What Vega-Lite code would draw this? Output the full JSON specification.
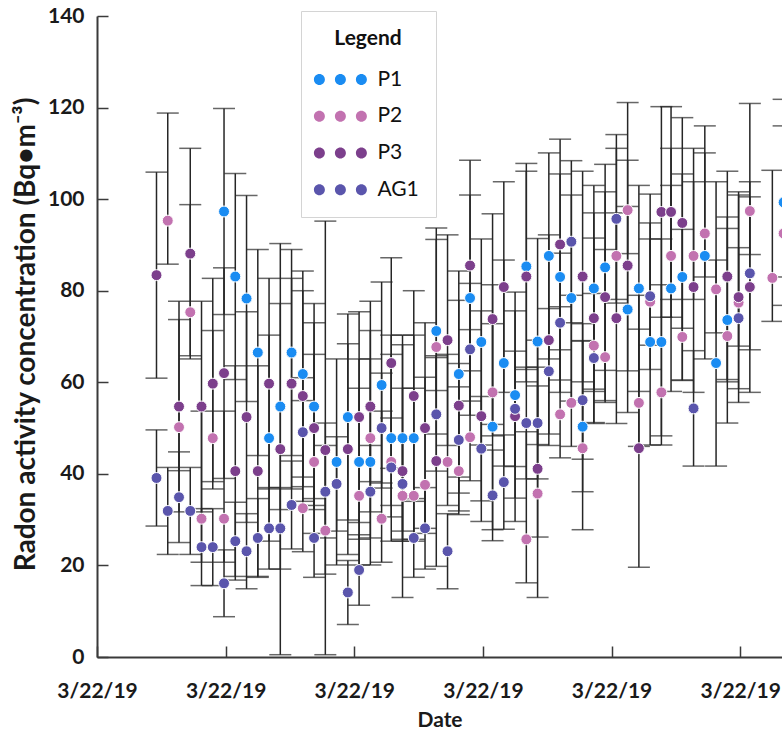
{
  "$schema": "https://vega.github.io/schema/vega-lite/v6.json",
  "autosize": "none",
  "padding": {"left": 97, "top": 16, "right": 0, "bottom": 72},
  "width": 685,
  "height": 641,
  "background": "white",
  "datasets": {
    "d": [
      {"s":"P1","d":79,"v":97.3,"lo":74.8,"hi":119.8},
      {"s":"P1","d":86,"v":83.1,"lo":60.6,"hi":105.6},
      {"s":"P1","d":93,"v":78.3,"lo":55.8,"hi":100.8},
      {"s":"P1","d":100,"v":66.5,"lo":44.0,"hi":89.0},
      {"s":"P1","d":107,"v":47.8,"lo":25.3,"hi":70.3},
      {"s":"P1","d":114,"v":54.7,"lo":32.2,"hi":77.2},
      {"s":"P1","d":121,"v":66.5,"lo":44.0,"hi":89.0},
      {"s":"P1","d":128,"v":61.8,"lo":39.3,"hi":84.3},
      {"s":"P1","d":135,"v":54.7,"lo":32.2,"hi":77.2},
      {"s":"P1","d":149,"v":42.6,"lo":20.1,"hi":65.1},
      {"s":"P1","d":156,"v":52.4,"lo":29.9,"hi":74.9},
      {"s":"P1","d":163,"v":42.6,"lo":20.1,"hi":65.1},
      {"s":"P1","d":170,"v":42.6,"lo":20.1,"hi":65.1},
      {"s":"P1","d":177,"v":59.4,"lo":36.9,"hi":81.9},
      {"s":"P1","d":183,"v":47.8,"lo":25.3,"hi":70.3},
      {"s":"P1","d":190,"v":47.8,"lo":25.3,"hi":70.3},
      {"s":"P1","d":197,"v":47.8,"lo":25.3,"hi":70.3},
      {"s":"P1","d":211,"v":71.2,"lo":48.7,"hi":93.7},
      {"s":"P1","d":225,"v":61.8,"lo":39.3,"hi":84.3},
      {"s":"P1","d":232,"v":78.4,"lo":55.9,"hi":100.9},
      {"s":"P1","d":239,"v":68.8,"lo":46.3,"hi":91.3},
      {"s":"P1","d":246,"v":50.3,"lo":27.8,"hi":72.8},
      {"s":"P1","d":253,"v":64.2,"lo":41.7,"hi":86.7},
      {"s":"P1","d":260,"v":57.2,"lo":34.7,"hi":79.7},
      {"s":"P1","d":267,"v":85.3,"lo":62.8,"hi":107.8},
      {"s":"P1","d":274,"v":68.9,"lo":46.4,"hi":91.4},
      {"s":"P1","d":281,"v":87.6,"lo":65.1,"hi":110.1},
      {"s":"P1","d":288,"v":83.0,"lo":60.5,"hi":105.5},
      {"s":"P1","d":295,"v":78.4,"lo":55.9,"hi":100.9},
      {"s":"P1","d":302,"v":50.3,"lo":27.8,"hi":72.8},
      {"s":"P1","d":309,"v":80.5,"lo":58.0,"hi":103.0},
      {"s":"P1","d":316,"v":85.1,"lo":62.6,"hi":107.6},
      {"s":"P1","d":330,"v":75.9,"lo":53.4,"hi":98.4},
      {"s":"P1","d":337,"v":80.5,"lo":58.0,"hi":103.0},
      {"s":"P1","d":344,"v":68.8,"lo":46.3,"hi":91.3},
      {"s":"P1","d":351,"v":68.8,"lo":46.3,"hi":91.3},
      {"s":"P1","d":357,"v":80.5,"lo":58.0,"hi":103.0},
      {"s":"P1","d":364,"v":83.0,"lo":60.5,"hi":105.5},
      {"s":"P1","d":378,"v":87.6,"lo":65.1,"hi":110.1},
      {"s":"P1","d":385,"v":64.2,"lo":41.7,"hi":86.7},
      {"s":"P1","d":392,"v":73.6,"lo":51.1,"hi":96.1},
      {"s":"P1","d":427,"v":99.3,"lo":76.8,"hi":121.8},

      {"s":"P2","d":44,"v":95.3,"lo":85.8,"hi":118.8},
      {"s":"P2","d":51,"v":50.2,"lo":40.7,"hi":73.7},
      {"s":"P2","d":58,"v":75.3,"lo":65.8,"hi":98.8},
      {"s":"P2","d":65,"v":30.2,"lo":20.7,"hi":53.7},
      {"s":"P2","d":72,"v":47.8,"lo":38.3,"hi":71.3},
      {"s":"P2","d":79,"v":30.2,"lo":20.7,"hi":53.7},
      {"s":"P2","d":128,"v":32.5,"lo":23.0,"hi":56.0},
      {"s":"P2","d":135,"v":42.6,"lo":33.1,"hi":66.1},
      {"s":"P2","d":142,"v":27.6,"lo":18.1,"hi":51.1},
      {"s":"P2","d":163,"v":35.2,"lo":25.7,"hi":58.7},
      {"s":"P2","d":170,"v":47.8,"lo":38.3,"hi":71.3},
      {"s":"P2","d":177,"v":30.2,"lo":20.7,"hi":53.7},
      {"s":"P2","d":183,"v":42.6,"lo":33.1,"hi":66.1},
      {"s":"P2","d":190,"v":35.2,"lo":25.7,"hi":58.7},
      {"s":"P2","d":197,"v":35.2,"lo":25.7,"hi":58.7},
      {"s":"P2","d":204,"v":37.6,"lo":28.1,"hi":61.1},
      {"s":"P2","d":211,"v":67.7,"lo":58.2,"hi":91.2},
      {"s":"P2","d":218,"v":42.6,"lo":33.1,"hi":66.1},
      {"s":"P2","d":225,"v":40.6,"lo":31.1,"hi":64.1},
      {"s":"P2","d":232,"v":48.0,"lo":38.5,"hi":71.5},
      {"s":"P2","d":246,"v":57.8,"lo":48.3,"hi":81.3},
      {"s":"P2","d":267,"v":25.7,"lo":16.2,"hi":49.2},
      {"s":"P2","d":274,"v":35.7,"lo":26.2,"hi":59.2},
      {"s":"P2","d":288,"v":53.0,"lo":43.5,"hi":76.5},
      {"s":"P2","d":295,"v":55.5,"lo":46.0,"hi":79.0},
      {"s":"P2","d":302,"v":45.6,"lo":36.1,"hi":69.1},
      {"s":"P2","d":309,"v":68.0,"lo":58.5,"hi":91.5},
      {"s":"P2","d":316,"v":65.5,"lo":56.0,"hi":89.0},
      {"s":"P2","d":323,"v":87.6,"lo":78.1,"hi":111.1},
      {"s":"P2","d":330,"v":97.6,"lo":88.1,"hi":121.1},
      {"s":"P2","d":337,"v":55.5,"lo":46.0,"hi":79.0},
      {"s":"P2","d":344,"v":77.6,"lo":68.1,"hi":101.1},
      {"s":"P2","d":351,"v":57.8,"lo":48.3,"hi":81.3},
      {"s":"P2","d":357,"v":87.6,"lo":78.1,"hi":111.1},
      {"s":"P2","d":364,"v":69.9,"lo":60.4,"hi":93.4},
      {"s":"P2","d":371,"v":87.6,"lo":78.1,"hi":111.1},
      {"s":"P2","d":378,"v":92.5,"lo":83.0,"hi":116.0},
      {"s":"P2","d":385,"v":80.3,"lo":70.8,"hi":103.8},
      {"s":"P2","d":392,"v":70.1,"lo":60.6,"hi":93.6},
      {"s":"P2","d":399,"v":77.4,"lo":67.9,"hi":100.9},
      {"s":"P2","d":406,"v":97.4,"lo":87.9,"hi":120.9},
      {"s":"P2","d":420,"v":82.8,"lo":73.3,"hi":106.3},
      {"s":"P2","d":427,"v":92.5,"lo":83.0,"hi":116.0},

      {"s":"P3","d":37,"v":83.4,"lo":60.9,"hi":105.9},
      {"s":"P3","d":51,"v":54.7,"lo":31.7,"hi":77.7},
      {"s":"P3","d":58,"v":88.1,"lo":65.1,"hi":111.1},
      {"s":"P3","d":65,"v":54.7,"lo":31.7,"hi":77.7},
      {"s":"P3","d":72,"v":59.7,"lo":36.7,"hi":82.7},
      {"s":"P3","d":79,"v":62.0,"lo":39.0,"hi":85.0},
      {"s":"P3","d":86,"v":40.6,"lo":17.6,"hi":63.6},
      {"s":"P3","d":93,"v":52.4,"lo":29.4,"hi":75.4},
      {"s":"P3","d":100,"v":40.6,"lo":17.6,"hi":63.6},
      {"s":"P3","d":107,"v":59.7,"lo":36.7,"hi":82.7},
      {"s":"P3","d":114,"v":45.4,"lo":0.5,"hi":90.3},
      {"s":"P3","d":121,"v":59.7,"lo":36.7,"hi":82.7},
      {"s":"P3","d":128,"v":57.0,"lo":34.0,"hi":80.0},
      {"s":"P3","d":135,"v":50.0,"lo":27.0,"hi":73.0},
      {"s":"P3","d":142,"v":45.2,"lo":0.5,"hi":95.2},
      {"s":"P3","d":156,"v":45.4,"lo":22.4,"hi":68.4},
      {"s":"P3","d":163,"v":52.4,"lo":29.4,"hi":75.4},
      {"s":"P3","d":170,"v":54.7,"lo":31.7,"hi":77.7},
      {"s":"P3","d":183,"v":64.2,"lo":41.2,"hi":87.2},
      {"s":"P3","d":190,"v":40.6,"lo":13.0,"hi":68.2},
      {"s":"P3","d":197,"v":57.0,"lo":34.0,"hi":80.0},
      {"s":"P3","d":204,"v":50.0,"lo":27.0,"hi":73.0},
      {"s":"P3","d":211,"v":42.8,"lo":19.8,"hi":65.8},
      {"s":"P3","d":218,"v":69.2,"lo":46.2,"hi":92.2},
      {"s":"P3","d":225,"v":54.9,"lo":31.9,"hi":77.9},
      {"s":"P3","d":232,"v":85.5,"lo":62.5,"hi":108.5},
      {"s":"P3","d":239,"v":52.6,"lo":29.6,"hi":75.6},
      {"s":"P3","d":246,"v":73.8,"lo":50.8,"hi":96.8},
      {"s":"P3","d":253,"v":80.8,"lo":57.8,"hi":103.8},
      {"s":"P3","d":260,"v":52.6,"lo":29.6,"hi":75.6},
      {"s":"P3","d":267,"v":83.1,"lo":60.1,"hi":106.1},
      {"s":"P3","d":274,"v":41.1,"lo":13.0,"hi":69.2},
      {"s":"P3","d":281,"v":69.2,"lo":46.2,"hi":92.2},
      {"s":"P3","d":288,"v":90.1,"lo":67.1,"hi":113.1},
      {"s":"P3","d":302,"v":83.1,"lo":60.1,"hi":106.1},
      {"s":"P3","d":309,"v":74.0,"lo":51.0,"hi":97.0},
      {"s":"P3","d":316,"v":78.6,"lo":55.6,"hi":101.6},
      {"s":"P3","d":323,"v":74.0,"lo":51.0,"hi":97.0},
      {"s":"P3","d":330,"v":85.5,"lo":62.5,"hi":108.5},
      {"s":"P3","d":337,"v":45.6,"lo":19.6,"hi":71.6},
      {"s":"P3","d":351,"v":97.2,"lo":74.2,"hi":120.2},
      {"s":"P3","d":357,"v":97.2,"lo":74.2,"hi":120.2},
      {"s":"P3","d":364,"v":94.8,"lo":71.8,"hi":117.8},
      {"s":"P3","d":371,"v":80.8,"lo":57.8,"hi":103.8},
      {"s":"P3","d":392,"v":83.1,"lo":60.1,"hi":106.1},
      {"s":"P3","d":399,"v":78.6,"lo":55.6,"hi":101.6},
      {"s":"P3","d":406,"v":80.8,"lo":57.8,"hi":103.8},

      {"s":"AG1","d":37,"v":39.1,"lo":28.6,"hi":49.6},
      {"s":"AG1","d":44,"v":31.9,"lo":22.4,"hi":41.4},
      {"s":"AG1","d":51,"v":34.9,"lo":25.0,"hi":44.8},
      {"s":"AG1","d":58,"v":31.9,"lo":22.4,"hi":41.4},
      {"s":"AG1","d":65,"v":24.0,"lo":15.6,"hi":32.4},
      {"s":"AG1","d":72,"v":24.0,"lo":15.6,"hi":32.4},
      {"s":"AG1","d":79,"v":16.1,"lo":8.8,"hi":23.4},
      {"s":"AG1","d":86,"v":25.3,"lo":16.8,"hi":33.8},
      {"s":"AG1","d":93,"v":23.1,"lo":14.9,"hi":31.3},
      {"s":"AG1","d":100,"v":26.0,"lo":17.4,"hi":34.6},
      {"s":"AG1","d":107,"v":28.1,"lo":19.2,"hi":37.0},
      {"s":"AG1","d":114,"v":28.1,"lo":19.2,"hi":37.0},
      {"s":"AG1","d":121,"v":33.2,"lo":23.6,"hi":42.8},
      {"s":"AG1","d":128,"v":49.1,"lo":37.2,"hi":61.0},
      {"s":"AG1","d":135,"v":26.0,"lo":17.4,"hi":34.6},
      {"s":"AG1","d":142,"v":36.1,"lo":26.0,"hi":46.2},
      {"s":"AG1","d":149,"v":37.8,"lo":27.5,"hi":48.1},
      {"s":"AG1","d":156,"v":14.1,"lo":7.1,"hi":21.1},
      {"s":"AG1","d":163,"v":19.0,"lo":11.3,"hi":26.7},
      {"s":"AG1","d":170,"v":36.1,"lo":26.0,"hi":46.2},
      {"s":"AG1","d":177,"v":50.0,"lo":38.0,"hi":62.0},
      {"s":"AG1","d":183,"v":41.4,"lo":30.6,"hi":52.2},
      {"s":"AG1","d":190,"v":37.8,"lo":27.5,"hi":48.1},
      {"s":"AG1","d":197,"v":26.0,"lo":17.4,"hi":34.6},
      {"s":"AG1","d":204,"v":28.1,"lo":19.2,"hi":37.0},
      {"s":"AG1","d":211,"v":53.0,"lo":40.6,"hi":65.4},
      {"s":"AG1","d":218,"v":23.1,"lo":14.9,"hi":31.3},
      {"s":"AG1","d":225,"v":47.4,"lo":35.8,"hi":59.0},
      {"s":"AG1","d":232,"v":67.2,"lo":52.8,"hi":81.6},
      {"s":"AG1","d":239,"v":45.5,"lo":34.1,"hi":56.9},
      {"s":"AG1","d":246,"v":35.3,"lo":25.4,"hi":45.2},
      {"s":"AG1","d":253,"v":38.2,"lo":27.9,"hi":48.5},
      {"s":"AG1","d":260,"v":54.2,"lo":41.6,"hi":66.8},
      {"s":"AG1","d":267,"v":51.1,"lo":38.9,"hi":63.3},
      {"s":"AG1","d":274,"v":51.1,"lo":38.9,"hi":63.3},
      {"s":"AG1","d":281,"v":62.4,"lo":48.7,"hi":76.1},
      {"s":"AG1","d":288,"v":73.0,"lo":57.8,"hi":88.2},
      {"s":"AG1","d":295,"v":90.7,"lo":73.0,"hi":108.4},
      {"s":"AG1","d":302,"v":56.1,"lo":43.2,"hi":69.0},
      {"s":"AG1","d":309,"v":65.3,"lo":51.2,"hi":79.4},
      {"s":"AG1","d":323,"v":95.7,"lo":77.3,"hi":114.1},
      {"s":"AG1","d":344,"v":78.8,"lo":62.8,"hi":94.8},
      {"s":"AG1","d":371,"v":54.3,"lo":41.7,"hi":66.9},
      {"s":"AG1","d":399,"v":74.0,"lo":58.6,"hi":89.4},
      {"s":"AG1","d":406,"v":83.8,"lo":67.1,"hi":100.5}
    ]
  },
  "data": {"name": "d"},
  "encoding": {
    "x": {
      "field": "d", "type": "quantitative",
      "scale": {"domain": [0, 426], "nice": false, "zero": false},
      "axis": {
        "title": "Date",
        "values": [0, 80, 160, 240, 320, 400],
        "labelExpr": "'3/22/19'",
        "labelFlush": false,
        "labelOverlap": false,
        "labelPadding": 34,
        "titlePadding": 8,
        "titleFontSize": 21
      }
    }
  },
  "layer": [
    {
      "mark": {"type": "rule", "color": "#262626", "strokeWidth": 1.5, "clip": true},
      "encoding": {
        "y": {"field": "lo", "type": "quantitative", "scale": {"domain": [0, 140], "nice": false},
          "axis": {
            "title": "Radon activity concentration (Bq•m⁻³)",
            "values": [0, 20, 40, 60, 80, 100, 120, 140],
            "labelPadding": 24,
            "titlePadding": 7,
            "titleFontSize": 28,
            "titleY": 318
          }},
        "y2": {"field": "hi"}
      }
    },
    {
      "mark": {"type": "tick", "orient": "horizontal", "color": "#262626", "size": 22, "thickness": 1.5, "clip": true},
      "encoding": {"y": {"field": "lo", "type": "quantitative"}}
    },
    {
      "mark": {"type": "tick", "orient": "horizontal", "color": "#262626", "size": 22, "thickness": 1.5, "clip": true},
      "encoding": {"y": {"field": "hi", "type": "quantitative"}}
    },
    {
      "mark": {"type": "point", "filled": true, "shape": "circle", "size": 120, "opacity": 1, "stroke": "white", "strokeWidth": 1, "clip": true},
      "encoding": {
        "y": {"field": "v", "type": "quantitative"},
        "color": {
          "field": "s", "type": "nominal",
          "scale": {"domain": ["P1", "P2", "P3", "AG1"], "range": ["#1A8CF2", "#C272B0", "#7C3F8C", "#5A55AC"]},
          "legend": {
            "title": "Legend",
            "orient": "none",
            "legendX": 204,
            "legendY": -5,
            "padding": 17,
            "strokeColor": "#d4d4d4",
            "fillColor": "white",
            "titleAnchor": "middle",
            "titleFont": "Lato",
            "titleFontSize": 21,
            "titleFontWeight": "bold",
            "titleColor": "#111",
            "titlePadding": 17,
            "labelFont": "Lato",
            "labelFontSize": 21,
            "labelColor": "#111",
            "labelOffset": 32.45,
            "rowPadding": 12.75,
            "symbolSize": 689,
            "symbolStrokeWidth": 0,
            "symbolType": "M-1.341,0 A0.419,0.419 0 1,0 -0.503,0 A0.419,0.419 0 1,0 -1.341,0 Z M0.259,0 A0.419,0.419 0 1,0 1.097,0 A0.419,0.419 0 1,0 0.259,0 Z M1.859,0 A0.419,0.419 0 1,0 2.697,0 A0.419,0.419 0 1,0 1.859,0 Z"
          }
        }
      }
    }
  ],
  "config": {
    "view": {"stroke": null},
    "axis": {
      "grid": false,
      "domainColor": "#3a3a3a",
      "domainWidth": 2,
      "tickColor": "#3a3a3a",
      "tickWidth": 1.5,
      "tickSize": -11,
      "labelFont": "Lato",
      "labelFontSize": 21,
      "labelFontWeight": "bold",
      "labelColor": "#1a1a1a",
      "titleFont": "Lato",
      "titleFontSize": 21,
      "titleFontWeight": "bold",
      "titleColor": "#1a1a1a"
    }
  }
}
